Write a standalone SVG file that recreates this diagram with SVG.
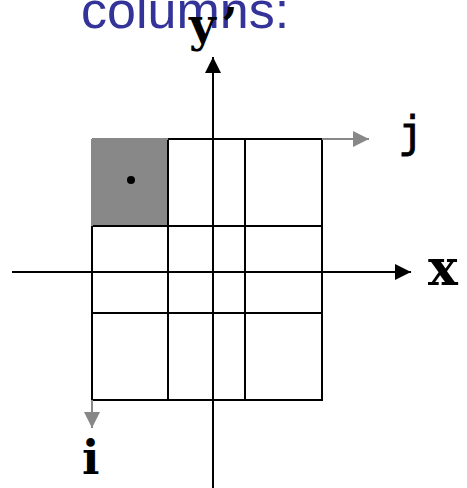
<svg xmlns="http://www.w3.org/2000/svg" width="467" height="488" viewBox="0 0 467 488">
<style>
.ln{stroke:#000;stroke-width:2;fill:none}
.gl{stroke:#888;stroke-width:2;fill:none}
.cour{font-family:"DejaVu Serif",serif;font-weight:bold;fill:#000}
</style>
<defs>
<marker id="ab" markerWidth="16" markerHeight="16" refX="16" refY="8" orient="auto" markerUnits="userSpaceOnUse"><path d="M0,0 L16,8 L0,16 Z" fill="#000"/></marker>
<marker id="ag" markerWidth="16" markerHeight="16" refX="16" refY="8" orient="auto" markerUnits="userSpaceOnUse"><path d="M0,0 L16,8 L0,16 Z" fill="#888"/></marker>
</defs>
<text x="81" y="28" font-family="Liberation Sans, Arial, sans-serif" font-size="52" fill="#333399">columns:</text>
<g id="cell-shaded"><rect x="92" y="139" width="76" height="87" fill="#888"/><circle cx="131" cy="180" r="4" fill="#000"/></g>
<g id="grid">
<path class="ln" d="M168,139 H322 V400 H92 V226 M92,226 H322 M92,313 H322 M168,139 V400 M245,139 V400"/>
<path d="M92,226 V139" stroke="#888" stroke-width="2"/>
</g>
<g id="connectors">
<path class="ln" d="M12,272 H411" marker-end="url(#ab)"/>
<path class="ln" d="M213,488 V57" marker-end="url(#ab)"/>
<path class="gl" d="M92,139 H168 M322,139 H369" marker-end="url(#ag)"/>
<path class="gl" d="M92,400 V428" marker-end="url(#ag)"/>
</g>
<g id="labels">
<text class="cour" x="189" y="41" font-size="46" letter-spacing="4">y’</text>
<text x="398" y="147" font-family="DejaVu Sans Mono, monospace" font-size="43" fill="#000" stroke="#000" stroke-width="0.8">j</text>
<text class="cour" x="428" y="285" font-size="50">x</text>
<text class="cour" x="82" y="474" font-size="46">i</text>
</g>
</svg>
